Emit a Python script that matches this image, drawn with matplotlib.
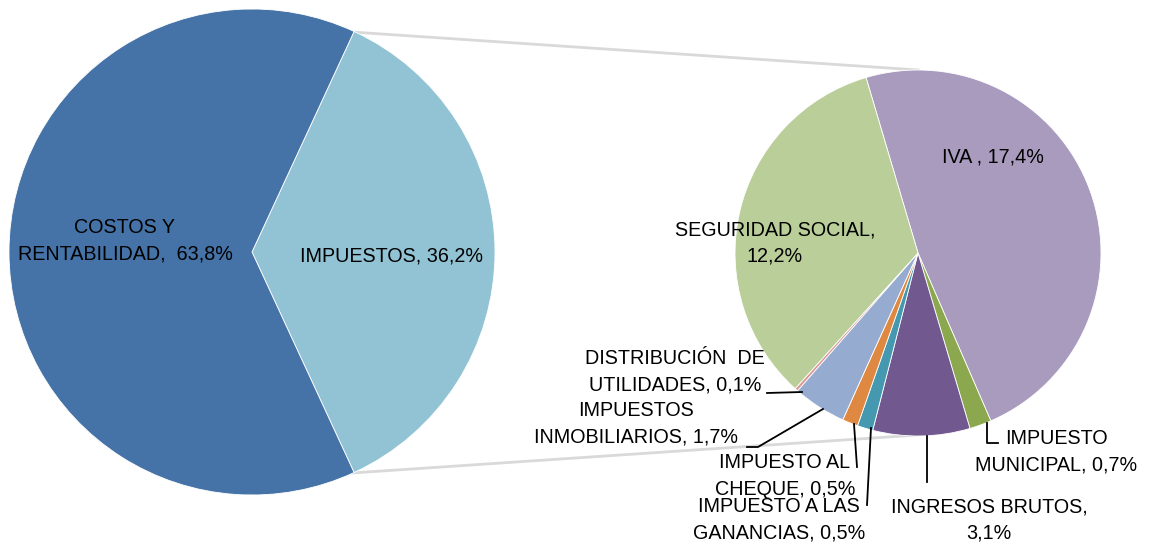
import matplotlib.pyplot as plt

# Main pie
main_labels = ["IMPUESTOS", "COSTOS Y\nRENTABILIDAD"]
main_values = [36.2, 63.8]
main_colors = ["#92C3D4", "#4573A7"]

# Breakdown of IMPUESTOS (clockwise from IVA)
sub_labels = ["IVA ", "IMPUESTO\nMUNICIPAL", "INGRESOS BRUTOS,\n", "IMPUESTO A LAS\nGANANCIAS",
              "IMPUESTO AL\nCHEQUE", "IMPUESTOS\nINMOBILIARIOS", "DISTRIBUCIÓN  DE\nUTILIDADES",
              "SEGURIDAD SOCIAL,\n"]
sub_values = [17.4, 0.7, 3.1, 0.5, 0.5, 1.7, 0.1, 12.2]
sub_colors = ["#A99BBD", "#8CA84F", "#71598F", "#4498B0", "#DE8842", "#96ABD0", "#D99795", "#BACE99"]

W, H = 1155, 548


def py(y):
    # image pixel row -> axes y
    return H - y


def pct(v):
    return f"{v:.1f}".replace(".", ",") + "%"


fig = plt.figure(figsize=(W / 100, H / 100), dpi=100)
ax = fig.add_axes([0, 0, 1, 1])
plt.rcParams['font.family'] = ['Liberation Sans', 'DejaVu Sans']

# left pie
lc, lr = (252, py(252)), 243
ang = main_values[0] / sum(main_values) * 180
ax.pie(main_values, center=lc, radius=lr, startangle=-ang, counterclock=True,
       colors=main_colors, wedgeprops=dict(edgecolor="white", linewidth=0.6))

# right pie
rc, rr = (918, py(253)), 183
ax.pie(sub_values, center=rc, radius=rr, startangle=106.5, counterclock=False,
       colors=sub_colors, wedgeprops=dict(edgecolor="white", linewidth=0.6))

# connector lines
ax.plot([352, 918], [py(32), py(70)], color="#D9D9D9", lw=2, zorder=0.5)
ax.plot([352, 918], [py(473), py(435)], color="#D9D9D9", lw=2, zorder=0.5)

fs = 14.2
tkw = dict(ha="center", va="center", fontsize=fs, color="black", linespacing=1.5, zorder=5)

ax.text(125, py(241), f"{main_labels[1]},  {pct(main_values[1])}", **tkw)
ax.text(391, py(256), f"{main_labels[0]}, {pct(main_values[0])}", **tkw)

# right pie labels (image coords of label centres)
label_pos = [(993, 157), (1056, 452), (989, 520), (779, 520), (785, 476), (636, 424), (675, 372), (775, 243)]
for lab, v, (x, y) in zip(sub_labels, sub_values, label_pos):
    sep = "" if lab.endswith("\n") else ", "
    ax.text(x, py(y), f"{lab}{sep}{pct(v)}", **tkw)

# leader lines
leaders = [
    [(987, 423), (987, 443), (998, 443)],
    [(927, 436), (927, 482)],
    [(871, 428), (867, 505)],
    [(854, 424), (857, 467)],
    [(747, 447), (758, 447), (823, 409)],
    [(767, 393), (802, 392)],
]
for pts in leaders:
    ax.plot([p[0] for p in pts], [py(p[1]) for p in pts], color="black", lw=1.3, zorder=4)

ax.set_xlim(0, W)
ax.set_ylim(0, H)
ax.set_aspect("equal")
ax.axis("off")
fig.savefig("out.png", dpi=100)
